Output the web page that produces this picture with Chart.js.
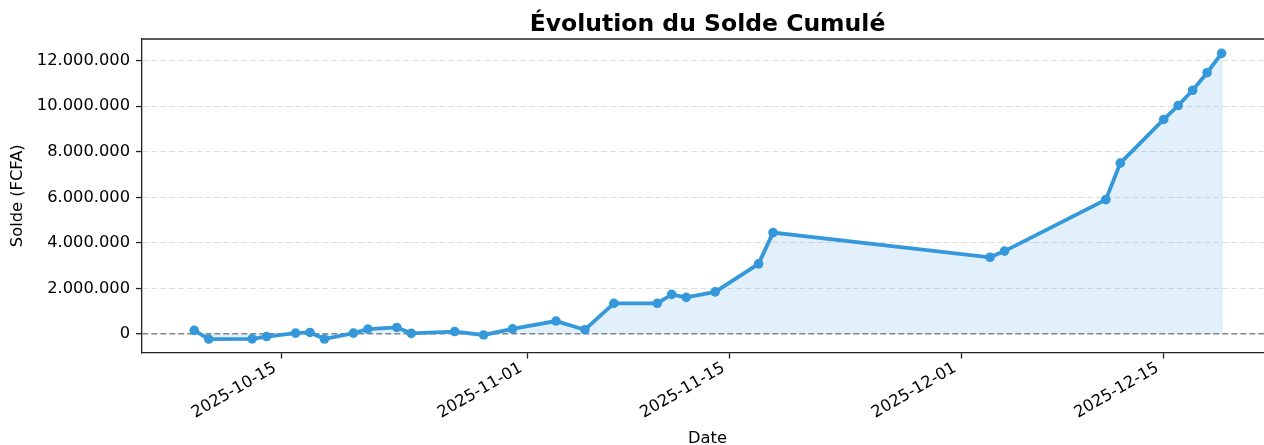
<!DOCTYPE html>
<html>
<head>
<meta charset="utf-8">
<script src="https://cdn.jsdelivr.net/npm/chart.js@4.4.1/dist/chart.umd.min.js"></script>
<style>
html,body{margin:0;padding:0;background:#ffffff;}
#wrap{width:1264px;height:445px;}
</style>
</head>
<body>
<div id="wrap"><canvas id="c" width="1264" height="445"></canvas></div>
<script>
// ---- data ----
const dates = [
  '2025-10-09','2025-10-10','2025-10-13','2025-10-14','2025-10-16','2025-10-17',
  '2025-10-18','2025-10-20','2025-10-21','2025-10-23','2025-10-24','2025-10-27',
  '2025-10-29','2025-10-31','2025-11-03','2025-11-05','2025-11-07','2025-11-10',
  '2025-11-11','2025-11-12','2025-11-14','2025-11-17','2025-11-18','2025-12-03',
  '2025-12-04','2025-12-11','2025-12-12','2025-12-15','2025-12-16','2025-12-17',
  '2025-12-18','2025-12-19'
];
const soldes = [
  160000, -220000, -210000, -110000, 40000, 70000,
  -220000, 40000, 220000, 290000, 30000, 110000,
  -40000, 230000, 570000, 190000, 1350000, 1350000,
  1740000, 1610000, 1850000, 3080000, 4450000, 3370000,
  3640000, 5900000, 7500000, 9420000, 10030000, 10700000,
  11470000, 12320000
];
const xTickLabels = ['2025-10-15','2025-11-01','2025-11-15','2025-12-01','2025-12-15'];
const yTickValues = [0, 2000000, 4000000, 6000000, 8000000, 10000000, 12000000];
const chartTitle = 'Évolution du Solde Cumulé';
const xAxisTitle = 'Date';
const yAxisTitle = 'Solde (FCFA)';

// ---- helpers ----
const DAY = 86400000;
const toTime = s => Date.parse(s + 'T00:00:00Z');
const fmtThousands = v => {
  const n = Math.round(v);
  const s = Math.abs(n).toString().replace(/\B(?=(\d{3})+(?!\d))/g, '.');
  return (n < 0 ? '-' : '') + s;
};
const points = dates.map((d, i) => ({ x: toTime(d), y: soldes[i] }));
const xRef = toTime(xTickLabels[0]);
const xMin = xRef - 9.61 * DAY;
const xMax = xRef + 67.93 * DAY;

const FONT = '"DejaVu Sans", sans-serif';
const BLUE = '#3498db';

const decor = {
  id: 'decor',
  beforeDatasetsDraw(chart) {
    // right edge of the filled area (matplotlib polygon edge)
    const ctx = chart.ctx;
    const xs = chart.scales.x, ys = chart.scales.y;
    const last = points[points.length - 1];
    ctx.save();
    ctx.strokeStyle = 'rgba(52,152,219,0.18)';
    ctx.lineWidth = 1.3;
    ctx.beginPath();
    ctx.moveTo(xs.getPixelForValue(last.x), ys.getPixelForValue(last.y));
    ctx.lineTo(xs.getPixelForValue(last.x), ys.getPixelForValue(0));
    ctx.stroke();
    ctx.restore();
  },
  afterDraw(chart) {
    const ctx = chart.ctx;
    const a = chart.chartArea;
    const cx = (a.left + a.right + 9) / 2;
    ctx.save();
    // top spine
    ctx.strokeStyle = '#222';
    ctx.lineWidth = 1.3;
    ctx.beginPath();
    ctx.moveTo(a.left - 0.65, a.top);
    ctx.lineTo(a.right, a.top);
    ctx.stroke();
    // title
    ctx.fillStyle = '#000';
    ctx.font = 'bold 23.5px ' + FONT;
    ctx.textAlign = 'center';
    ctx.textBaseline = 'alphabetic';
    ctx.fillText(chartTitle, cx, 31);
    // x axis title
    ctx.font = '16.3px ' + FONT;
    ctx.fillText(xAxisTitle, cx, 443);
    ctx.restore();
  }
};

new Chart(document.getElementById('c'), {
  type: 'line',
  data: {
    datasets: [{
      data: points,
      borderColor: BLUE,
      borderWidth: 3.8,
      backgroundColor: 'rgba(52,152,219,0.15)',
      fill: 'origin',
      tension: 0,
      pointRadius: 4.8,
      pointHoverRadius: 4.8,
      pointBackgroundColor: BLUE,
      pointBorderWidth: 0
    }]
  },
  options: {
    responsive: false,
    animation: false,
    devicePixelRatio: 1,
    layout: { autoPadding: false, padding: { top: 39, left: 0, right: 0, bottom: 0 } },
    plugins: {
      legend: { display: false },
      title: { display: false },
      tooltip: { enabled: false }
    },
    scales: {
      x: {
        type: 'linear',
        min: xMin,
        max: xMax,
        afterBuildTicks: s => { s.ticks = xTickLabels.map(l => ({ value: toTime(l) })); },
        afterFit: s => { s.height = 92.5; s.paddingRight = 0; s.paddingLeft = 0; },
        ticks: {
          autoSkip: false,
          minRotation: 30,
          maxRotation: 30,
          padding: 0,
          labelOffset: -6,
          color: '#000',
          font: { family: FONT, size: 16.3 },
          callback: v => {
            const i = xTickLabels.findIndex(l => toTime(l) === v);
            return i >= 0 ? xTickLabels[i] : '';
          }
        },
        grid: {
          drawOnChartArea: false,
          drawTicks: true,
          tickLength: 6,
          tickColor: '#222',
          tickWidth: 1.3
        },
        border: { display: true, color: '#222', width: 1.3 },
        title: { display: false }
      },
      y: {
        min: -810000,
        max: 12950000,
        afterBuildTicks: s => { s.ticks = yTickValues.map(v => ({ value: v })); },
        afterFit: s => { s.width = 142; s.paddingTop = 0; s.paddingBottom = 0; },
        ticks: {
          padding: 6,
          color: '#000',
          font: { family: FONT, size: 16.3 },
          callback: v => fmtThousands(v)
        },
        grid: {
          drawTicks: true,
          tickLength: 6,
          tickColor: '#222',
          tickWidth: 1.3,
          color: c => (c.tick && c.tick.value === 0) ? 'rgba(110,110,110,0.85)' : 'rgba(200,200,200,0.6)',
          lineWidth: c => (c.tick && c.tick.value === 0) ? 1.4 : 1.1
        },
        border: { display: true, color: '#222', width: 1.3, dash: [6, 3] },
        title: {
          display: true,
          text: yAxisTitle,
          color: '#000',
          font: { family: FONT, size: 16.3 },
          padding: { top: 8, bottom: 0 }
        }
      }
    }
  },
  plugins: [decor]
});
</script>
</body>
</html>
